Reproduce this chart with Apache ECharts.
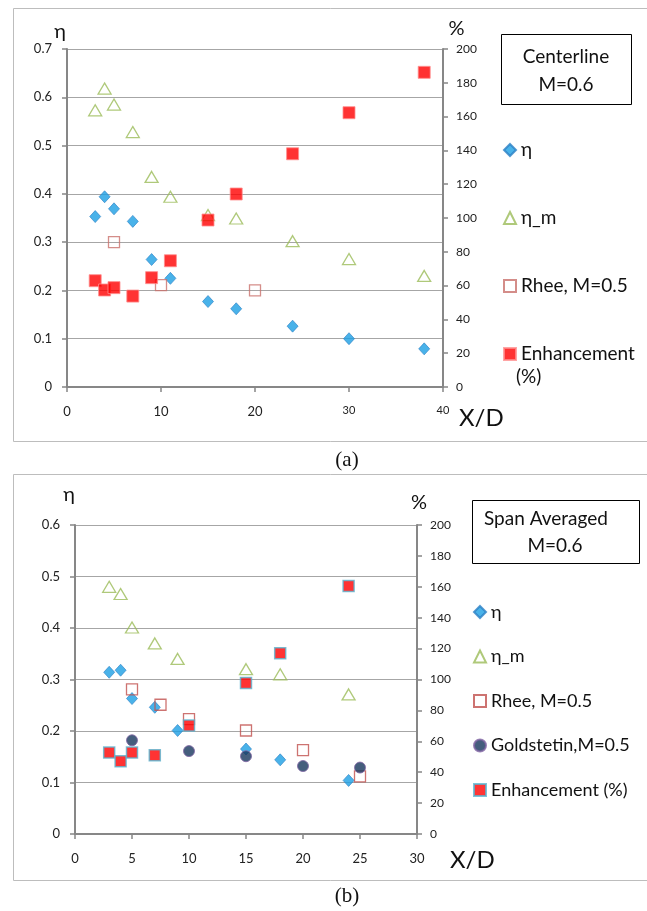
<!DOCTYPE html>
<html><head><meta charset="utf-8">
<script src="https://cdn.jsdelivr.net/npm/echarts@6/dist/echarts.min.js"></script>
<style>html,body{margin:0;padding:0;background:#fff}#c{width:647px;height:911px}</style>
</head><body><div id="c"></div><script>
const FONT = "Lato, 'Noto Sans', 'DejaVu Sans', sans-serif";
// ---- (a) Centerline, M=0.6 ----
const aX = [3, 4, 5, 7, 9, 11, 15, 18, 24, 30, 38];
const aEta = [0.353, 0.394, 0.369, 0.343, 0.264, 0.225, 0.177, 0.162, 0.126, 0.100, 0.079];
const aEtaM = [0.573, 0.618, 0.585, 0.528, 0.435, 0.394, 0.356, 0.349, 0.302, 0.265, 0.230];
const aRheeX = [5, 10, 20];
const aRhee = [0.300, 0.211, 0.200];
const aEnh = [62.9, 57.4, 58.8, 53.8, 64.7, 74.7, 98.8, 114.2, 138.0, 162.3, 186.2];
// ---- (b) Span Averaged, M=0.6 ----
const bX = [3, 4, 5, 7, 9, 15, 18, 24];
const bEta = [0.314, 0.318, 0.263, 0.246, 0.201, 0.165, 0.144, 0.104];
const bEtaM = [0.480, 0.466, 0.401, 0.370, 0.340, 0.320, 0.310, 0.271];
const bRheeX = [5, 7.5, 10, 15, 20, 25];
const bRhee = [0.281, 0.251, 0.223, 0.201, 0.163, 0.112];
const bGoldX = [5, 10, 15, 20, 25];
const bGold = [0.182, 0.161, 0.151, 0.132, 0.129];
const bEnhX = [3, 4, 5, 7, 10, 15, 18, 24];
const bEnh = [52.7, 47.1, 52.7, 51.0, 70.2, 97.8, 117.0, 160.5];

const zip = (xs, ys) => xs.map((x, i) => [x, ys[i]]);
const AX = '#878787';
function xAxis(grid, max, interval, fmt) {
  return {
    type: 'value', gridIndex: grid, min: 0, max: max, interval: interval,
    axisLine: {show: true, onZero: false, lineStyle: {color: AX, width: 2}},
    axisTick: {show: true, length: 5, lineStyle: {color: AX, width: 1.5}},
    axisLabel: {color: '#222', fontFamily: FONT, fontSize: 13, margin: 18, formatter: fmt,
      rich: {s: {fontSize: 11, fontFamily: FONT, color: '#222'}}},
    splitLine: {show: false}
  };
}
function yAxis(grid, pos, max, interval, split, namePad, nameGap, name) {
  return {
    type: 'value', gridIndex: grid, position: pos, min: 0, max: max, interval: interval,
    axisLine: {show: true, lineStyle: {color: AX, width: 2}},
    axisTick: {show: true, length: 5, lineStyle: {color: AX, width: 1.5}},
    axisLabel: {color: '#222', fontFamily: FONT, fontSize: pos === 'left' ? 13 : 12, margin: pos === 'left' ? 15 : 13},
    splitLine: {show: split, lineStyle: {color: '#a6a6a6', width: 1.2}},
    name: name, nameLocation: 'end', nameGap: nameGap,
    nameTextStyle: {fontFamily: FONT, fontSize: 20, color: '#111', padding: namePad}
  };
}
const etaStyle = {color: '#1c9fe4', borderColor: '#2a7fc4', borderWidth: 0.8};
const etaMStyle = {color: 'rgba(255,255,255,0)', borderColor: '#9bbb59', borderWidth: 1.3};
const rheeStyle = {color: 'rgba(255,255,255,0)', borderColor: '#c0504d', borderWidth: 1.3};

const option = {
  backgroundColor: '#fff',
  animation: false,
  grid: [
    {left: 67, top: 49, width: 376, height: 338},
    {left: 75, top: 525, width: 342, height: 309}
  ],
  xAxis: [
    xAxis(0, 40, 10, v => v >= 30 ? '{s|' + v + '}' : String(v)),
    xAxis(1, 30, 5, v => String(v))
  ],
  yAxis: [
    yAxis(0, 'left', 0.7, 0.1, true, [0, 14, 0, 0], 7, 'η'),
    yAxis(0, 'right', 200, 20, false, [0, 0, 0, 27], 10, '%'),
    yAxis(1, 'left', 0.6, 0.1, true, [0, 12, 0, 0], 20, 'η'),
    yAxis(1, 'right', 200, 20, false, [0, 0, 0, 4], 12, '%')
  ],
  legend: [
    {orient: 'vertical', left: 498, top: 135, itemGap: 48, itemWidth: 12, itemHeight: 12,
      textStyle: {fontFamily: FONT, fontSize: 19, color: '#111', lineHeight: 20},
      data: ['η', 'η_m', 'Rhee, M=0.5', 'Enhancement']},
    {orient: 'vertical', left: 468, top: 597, itemGap: 24.5, itemWidth: 12, itemHeight: 12,
      textStyle: {fontFamily: FONT, fontSize: 18, color: '#111', lineHeight: 20},
      data: ['η ', 'η_m ', 'Rhee, M=0.5 ', 'Goldstetin,M=0.5', 'Enhancement (%)']}
  ],
  series: [
    {name: 'η', type: 'scatter', xAxisIndex: 0, yAxisIndex: 0, symbol: 'diamond', symbolSize: [11, 12],
      itemStyle: etaStyle, data: zip(aX, aEta)},
    {name: 'η_m', type: 'scatter', xAxisIndex: 0, yAxisIndex: 0, symbol: 'triangle', symbolSize: [13, 11],
      itemStyle: etaMStyle, data: zip(aX, aEtaM)},
    {name: 'Rhee, M=0.5', type: 'scatter', xAxisIndex: 0, yAxisIndex: 0, symbol: 'rect', symbolSize: 11,
      itemStyle: {color: 'rgba(255,255,255,0)', borderColor: '#c9706c', borderWidth: 1.3}, data: zip(aRheeX, aRhee)},
    {name: 'Enhancement', type: 'scatter', xAxisIndex: 0, yAxisIndex: 1, symbol: 'rect', symbolSize: 12,
      itemStyle: {color: '#ff0000', borderColor: '#ff8f8f', borderWidth: 1}, data: zip(aX, aEnh)},

    {name: 'η ', type: 'scatter', xAxisIndex: 1, yAxisIndex: 2, symbol: 'diamond', symbolSize: [11, 12],
      itemStyle: etaStyle, data: zip(bX, bEta)},
    {name: 'η_m ', type: 'scatter', xAxisIndex: 1, yAxisIndex: 2, symbol: 'triangle', symbolSize: [13, 11],
      itemStyle: etaMStyle, data: zip(bX, bEtaM)},
    {name: 'Rhee, M=0.5 ', type: 'scatter', xAxisIndex: 1, yAxisIndex: 2, symbol: 'rect', symbolSize: 11,
      itemStyle: rheeStyle, data: zip(bRheeX, bRhee)},
    {name: 'Goldstetin,M=0.5', type: 'scatter', xAxisIndex: 1, yAxisIndex: 2, symbol: 'circle', symbolSize: 11,
      itemStyle: {color: '#17365d', borderColor: '#8064a2', borderWidth: 1}, data: zip(bGoldX, bGold)},
    {name: 'Enhancement (%)', type: 'scatter', xAxisIndex: 1, yAxisIndex: 3, symbol: 'rect', symbolSize: 11,
      itemStyle: {color: '#ff0000', borderColor: '#5ab4d0', borderWidth: 1.5}, data: zip(bEnhX, bEnh)}
  ],
  graphic: [
    {type: 'rect', shape: {x: 13.5, y: 8.5, width: 640, height: 433}, style: {fill: 'none', stroke: '#bdbdbd', lineWidth: 1}, silent: true, z: -1},
    {type: 'rect', shape: {x: 13.5, y: 474.5, width: 640, height: 406}, style: {fill: 'none', stroke: '#bdbdbd', lineWidth: 1}, silent: true, z: -1},
    {type: 'rect', shape: {x: 501.5, y: 34.5, width: 130, height: 70}, style: {fill: '#fff', stroke: '#000', lineWidth: 1}},
    {type: 'text', x: 566, y: 57, style: {text: 'Centerline', font: '19px ' + FONT, fill: '#111', align: 'center', verticalAlign: 'middle'}},
    {type: 'text', x: 566, y: 85, style: {text: 'M=0.6', font: '19px ' + FONT, fill: '#111', align: 'center', verticalAlign: 'middle'}},
    {type: 'rect', shape: {x: 472.5, y: 500.5, width: 167, height: 63}, style: {fill: '#fff', stroke: '#000', lineWidth: 1}},
    {type: 'text', x: 484, y: 519, style: {text: 'Span Averaged', font: '19px ' + FONT, fill: '#111', align: 'left', verticalAlign: 'middle'}},
    {type: 'text', x: 555, y: 546, style: {text: 'M=0.6', font: '19px ' + FONT, fill: '#111', align: 'center', verticalAlign: 'middle'}},
    {type: 'text', x: 516, y: 377, style: {text: '(%)', font: '19px ' + FONT, fill: '#111', align: 'left', verticalAlign: 'middle'}},
    {type: 'text', x: 459, y: 418, style: {text: 'X/D', font: '24px ' + FONT, fill: '#111', align: 'left', verticalAlign: 'middle'}},
    {type: 'text', x: 450, y: 860, style: {text: 'X/D', font: '24px ' + FONT, fill: '#111', align: 'left', verticalAlign: 'middle'}},
    {type: 'text', x: 347, y: 460, style: {text: '(a)', font: '21px "Liberation Serif", "Times New Roman", serif', fill: '#111', align: 'center', verticalAlign: 'middle'}},
    {type: 'text', x: 347, y: 896, style: {text: '(b)', font: '21px "Liberation Serif", "Times New Roman", serif', fill: '#111', align: 'center', verticalAlign: 'middle'}}
  ]
};
const chart = echarts.init(document.getElementById('c'), null, {renderer: 'canvas'});
chart.setOption(option);
</script></body></html>
